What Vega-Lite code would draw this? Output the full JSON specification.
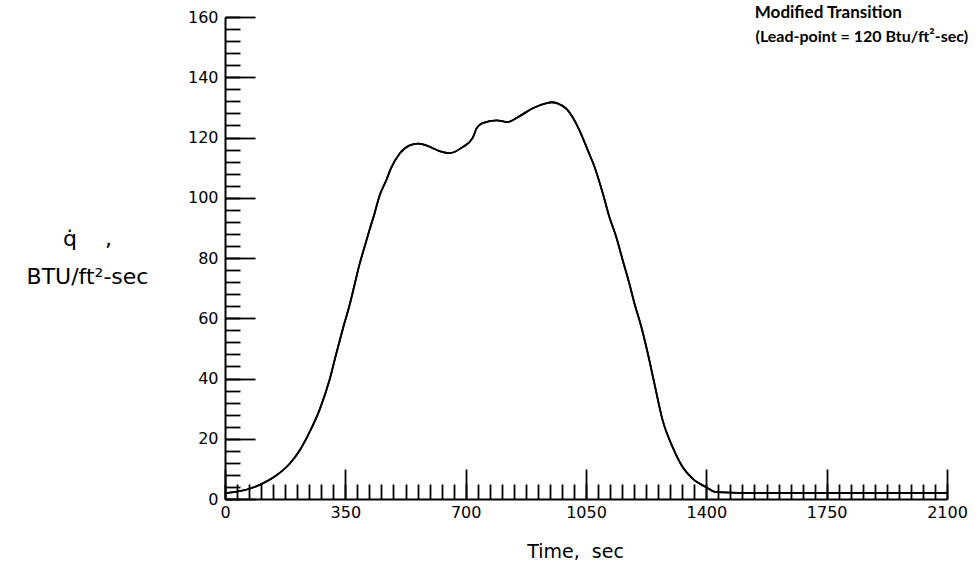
{
  "$schema": "https://vega.github.io/schema/vega-lite/v6.json",
  "width": 722,
  "height": 482,
  "autosize": "none",
  "padding": {"left": 225, "top": 17, "right": 31, "bottom": 68},
  "background": "white",
  "config": {"view": {"stroke": null}},
  "data": {
    "values": [
      {"t": 0, "q": 1.9}, {"t": 42, "q": 2.6}, {"t": 71, "q": 3.4}, {"t": 110, "q": 5.2},
      {"t": 149, "q": 7.8}, {"t": 188, "q": 11.7}, {"t": 217, "q": 16.1}, {"t": 246, "q": 22.2},
      {"t": 275, "q": 29.6}, {"t": 304, "q": 39.5}, {"t": 323, "q": 48.0}, {"t": 343, "q": 56.6},
      {"t": 362, "q": 64.2}, {"t": 377, "q": 71.2}, {"t": 391, "q": 77.8}, {"t": 406, "q": 83.7},
      {"t": 420, "q": 89.2}, {"t": 435, "q": 94.8}, {"t": 449, "q": 100.5}, {"t": 469, "q": 105.8},
      {"t": 483, "q": 109.8}, {"t": 508, "q": 114.7}, {"t": 537, "q": 117.4}, {"t": 561, "q": 118.0},
      {"t": 585, "q": 117.4}, {"t": 624, "q": 115.5}, {"t": 653, "q": 114.8}, {"t": 691, "q": 116.8},
      {"t": 720, "q": 119.8}, {"t": 732, "q": 123.1}, {"t": 749, "q": 124.8}, {"t": 790, "q": 125.7},
      {"t": 822, "q": 125.1}, {"t": 857, "q": 127.1}, {"t": 895, "q": 129.7}, {"t": 936, "q": 131.4},
      {"t": 950, "q": 131.7}, {"t": 965, "q": 131.4}, {"t": 994, "q": 129.4}, {"t": 1031, "q": 122.4},
      {"t": 1055, "q": 115.8}, {"t": 1075, "q": 110.2}, {"t": 1099, "q": 101.4}, {"t": 1118, "q": 93.6},
      {"t": 1138, "q": 87.0}, {"t": 1157, "q": 79.2}, {"t": 1176, "q": 71.5}, {"t": 1191, "q": 64.9},
      {"t": 1211, "q": 57.1}, {"t": 1230, "q": 48.2}, {"t": 1249, "q": 38.3}, {"t": 1273, "q": 26.1},
      {"t": 1302, "q": 17.2}, {"t": 1331, "q": 10.6}, {"t": 1361, "q": 6.7}, {"t": 1400, "q": 3.9},
      {"t": 1429, "q": 2.3}, {"t": 1555, "q": 2.0}, {"t": 2100, "q": 2.0}
    ]
  },
  "layer": [
    {
      "mark": {"type": "line", "color": "black", "strokeWidth": 1.8, "interpolate": "monotone"},
      "encoding": {
        "x": {
          "field": "t", "type": "quantitative",
          "scale": {"domain": [0, 2100], "nice": false, "zero": false},
          "axis": {
            "orient": "bottom",
            "values": [0, 350, 700, 1050, 1400, 1750, 2100],
            "format": "d",
            "tickSize": -30, "tickWidth": 1.8, "tickColor": "black",
            "domainColor": "black", "domainWidth": 2,
            "grid": false,
            "labelPadding": 35, "labelFont": "DejaVu Sans", "labelFontSize": 16, "labelColor": "black",
            "labelFlush": false, "labelOverlap": false,
            "title": "Time,\u00a0 sec",
            "titleFont": "DejaVu Sans", "titleFontSize": 19, "titleFontWeight": "normal", "titleColor": "black",
            "titleX": 350, "titleY": 58, "titleAlign": "center", "titleBaseline": "alphabetic"
          }
        },
        "y": {
          "field": "q", "type": "quantitative",
          "scale": {"domain": [0, 160], "nice": false, "zero": false},
          "axis": {
            "orient": "left",
            "values": [0, 20, 40, 60, 80, 100, 120, 140, 160],
            "tickSize": -30, "tickWidth": 1.8, "tickColor": "black",
            "domainColor": "black", "domainWidth": 2,
            "grid": false,
            "labelPadding": 37, "labelFont": "DejaVu Sans", "labelFontSize": 16, "labelColor": "black",
            "labelFlush": false, "labelOverlap": false,
            "title": ["q\u0307\u00a0\u00a0\u00a0\u00a0,", "BTU/ft²-sec"],
            "titleFont": "DejaVu Sans", "titleFontSize": 22, "titleFontWeight": "normal", "titleColor": "black",
            "titleAngle": 0, "titleX": -138, "titleY": 228, "titleAlign": "center", "titleBaseline": "alphabetic",
            "titleLineHeight": 38
          }
        }
      }
    },
    {
      "mark": {"type": "line", "color": "black", "strokeWidth": 1.8, "interpolate": "monotone"},
      "encoding": {
        "x": {
          "field": "t", "type": "quantitative",
          "axis": {
            "orient": "bottom",
            "values": [0,35,70,105,140,175,210,245,280,315,350,385,420,455,490,525,560,595,630,665,700,735,770,805,840,875,910,945,980,1015,1050,1085,1120,1155,1190,1225,1260,1295,1330,1365,1400,1435,1470,1505,1540,1575,1610,1645,1680,1715,1750,1785,1820,1855,1890,1925,1960,1995,2030,2065,2100],
            "tickSize": -15, "tickWidth": 1.8, "tickColor": "black",
            "domain": false, "grid": false, "labels": false, "title": null
          }
        },
        "y": {
          "field": "q", "type": "quantitative",
          "axis": {
            "orient": "left",
            "values": [0,4,8,12,16,20,24,28,32,36,40,44,48,52,56,60,64,68,72,76,80,84,88,92,96,100,104,108,112,116,120,124,128,132,136,140,144,148,152,156,160],
            "tickSize": -15, "tickWidth": 1.8, "tickColor": "black",
            "domain": false, "grid": false, "labels": false, "title": null
          }
        }
      }
    },
    {
      "data": {"values": [{"note": "Modified Transition"}]},
      "mark": {
        "type": "text", "align": "left", "baseline": "alphabetic",
        "font": "Lato", "fontSize": 17, "fontWeight": "bold", "color": "black"
      },
      "encoding": {
        "text": {"field": "note"},
        "x": {"datum": 1541, "type": "quantitative", "axis": null},
        "y": {"datum": 159.6, "type": "quantitative", "axis": null}
      }
    },
    {
      "data": {"values": [{"note": "(Lead-point = 120 Btu/ft²-sec)"}]},
      "mark": {
        "type": "text", "align": "left", "baseline": "alphabetic",
        "font": "Lato", "fontSize": 16, "fontWeight": "bold", "color": "black"
      },
      "encoding": {
        "text": {"field": "note"},
        "x": {"datum": 1543, "type": "quantitative", "axis": null},
        "y": {"datum": 151.8, "type": "quantitative", "axis": null}
      }
    }
  ],
  "resolve": {"axis": {"x": "independent", "y": "independent"}}
}
